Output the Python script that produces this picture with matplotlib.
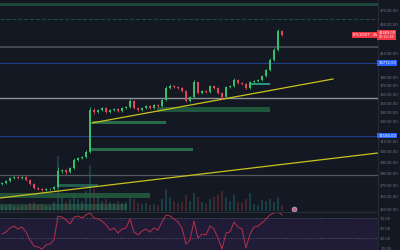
import numpy as np
import matplotlib
matplotlib.use("Agg")
import matplotlib.pyplot as plt

# candles (4h-ish bars), prices in USD
closes = [27170, 27345, 27607, 27695, 27607, 27695, 27432, 27086, 26744, 26659,
          26576, 26659, 26660, 26829, 28227, 28317, 28137, 28499, 29230, 29416,
          29510, 29982, 34259, 34042, 34259, 34477, 34042, 34259, 34368, 34150,
          34477, 34586, 35251, 34477, 34259, 34477, 34696, 34477, 34807, 34696,
          35364, 36737, 36971, 36854, 36737, 36389, 35251, 35702, 37443, 36158,
          36389, 36273, 36971, 36737, 36158, 35702, 36854, 36971, 37682, 37325,
          37206, 36737, 37443, 37562, 37682, 38163, 38897, 40152, 41447, 44025,
          43469]
highs = [27300, 27450, 27720, 27800, 27780, 27790, 27760, 27500, 27150, 26850,
         26760, 26740, 26780, 26900, 28600, 28450, 28400, 28600, 29380, 29520,
         29650, 30150, 34550, 34450, 34400, 34620, 34560, 34380, 34500, 34480,
         34580, 34720, 35500, 35330, 34560, 34600, 34820, 34760, 34930, 34900,
         35500, 36950, 37150, 37080, 36970, 36820, 36450, 35850, 37700, 37500,
         36550, 36500, 37100, 37050, 36800, 36250, 36980, 37120, 37900, 37780,
         37450, 37300, 37560, 37700, 37850, 38300, 39050, 40350, 41700, 44350,
         44200]
lows = [26980, 27080, 27280, 27520, 27500, 27540, 27350, 26990, 26650, 26560,
        26450, 26500, 26560, 26610, 26780, 28080, 27980, 28050, 28420, 29120,
        29300, 29380, 29900, 33850, 33920, 34120, 33900, 33950, 34150, 34020,
        34050, 34380, 34500, 34380, 34120, 34180, 34380, 34350, 34400, 34580,
        34600, 35250, 36600, 36700, 36600, 36250, 35150, 35100, 35600, 36050,
        36050, 36150, 36200, 36600, 36050, 35520, 35650, 36750, 36900, 37200,
        37080, 36650, 36650, 37350, 37480, 37600, 38050, 38800, 40000, 41300,
        43300]
first_open = 27086
volume = [6, 5, 7, 5, 4, 5, 6, 8, 9, 6, 7, 5, 4, 9, 55, 14, 9, 12, 18, 12,
          10, 20, 46, 22, 14, 10, 12, 9, 8, 10, 8, 9, 16, 12, 8, 7, 8, 6, 7, 6,
          12, 22, 14, 10, 8, 9, 16, 10, 18, 14, 9, 8, 12, 14, 16, 20, 14, 10, 16, 9,
          8, 12, 18, 7, 6, 11, 10, 12, 9, 14, 6]
rsi = [38, 42, 50, 54, 48, 52, 42, 26, 14, 12, 8, 16, 18, 26, 74, 72, 66, 58, 72, 74,
       70, 76, 80, 70, 68, 64, 56, 46, 50, 40, 48, 50, 68, 42, 36, 44, 48, 42, 50, 46,
       62, 76, 74, 68, 62, 50, 18, 26, 64, 30, 38, 36, 54, 48, 30, 8, 40, 42, 62, 52,
       48, 10, 38, 52, 54, 60, 68, 76, 80, 82, 76]

# horizontal levels (price, color, width, style)
levels = [(47963, '#1d4a3c', 2.0, '-'), (45733, '#1d4a3c', 0.8, '--'),
          (41910, '#4a4c55', 1.3, '-'), (39772, '#1f3d8a', 0.8, '-'),
          (35589, '#8e9097', 1.0, '-'), (31594, '#1f3d8a', 0.8, '-'),
          (27871, '#55575f', 0.9, '-')]
# zones: start bar, end bar, low, high, color, alpha
zones = [(22.5, 41, 32769, 33083, '#2b7a52', 0.85),
         (38.75, 67, 34042, 34586, '#22613f', 0.85),
         (62, 67, 37088, 37325, '#2aa38c', 0.9),
         (22, 47.75, 30077, 30365, '#2b7a52', 0.85),
         (14, 24, 26829, 27086, '#2f8a6a', 0.6),
         (-0.5, 37, 25908, 26323, '#22613f', 0.8),
         (-0.5, 31.25, 24940, 25419, '#3d8a5f', 0.35)]
# trendlines: (bar, price) pairs
trend_up = [(22.5, 32874), (82.75, 37801)]
trend_low = [(-0.5, 25908), (94, 29887)]
price_ticks = [25000, 26000, 27000, 28000, 29000, 30000, 31000, 33000,
               34000, 35000, 36000, 37000, 38000, 41000, 45000, 47000]
rsi_ticks = [70, 50, 30, 10]

bg = '#141823'
up_c, dn_c = '#38bd6c', '#e0455a'
txt_c = '#6f7380'

n = len(closes)
x = np.arange(n)
c = np.array(closes, float)
o = np.r_[first_open, c[:-1]]
up = c >= o

fig = plt.figure(figsize=(4, 2.5), dpi=100, facecolor=bg)

# volume overlay (behind candles)
vax = fig.add_axes([0, 0.156, 0.945, 0.844], facecolor=bg)
vol = np.array(volume, float)
vax.bar(x[up], vol[up], width=0.6, color='#26a69a', alpha=0.28, lw=0)
vax.bar(x[~up], vol[~up], width=0.6, color='#ef5350', alpha=0.22, lw=0)
vax.set_xlim(-0.5, 94)
vax.set_ylim(0, vol.max() / 0.26)
vax.axis('off')

ax = fig.add_axes([0, 0.156, 0.945, 0.844], facecolor='none')
ax.set_yscale('log')
ax.set_xlim(-0.5, 94)
ax.set_ylim(24861, 48577)

for p, col, lw, ls in levels:
    ax.axhline(p, color=col, lw=lw, ls=ls, zorder=1)
for x0, x1, lo, hi, col, a in zones:
    ax.fill_between([x0, x1], lo, hi, color=col, alpha=a, lw=0, zorder=2)
for seg in (trend_up, trend_low):
    ax.plot([seg[0][0], seg[1][0]], [seg[0][1], seg[1][1]], color='#c9c21e',
            lw=0.9, zorder=3)

cols = np.where(up, up_c, dn_c)
ax.vlines(x, lows, highs, colors=cols, lw=0.6, zorder=4)
ax.bar(x, np.abs(c - o), bottom=np.minimum(o, c), width=0.6, color=cols,
       lw=0, zorder=5)

# event marker
ax.plot(73, 25000, 'o', ms=3.5, mfc='#e05d70', mec='#9fb3ff', mew=0.5, zorder=6)

ax.yaxis.tick_right()
ax.set_yticks(price_ticks)
ax.set_yticklabels([f'{t:.2f}' for t in price_ticks])
ax.yaxis.set_minor_locator(matplotlib.ticker.NullLocator())
ax.tick_params(axis='y', length=0, pad=1.5, labelsize=2.9, labelcolor=txt_c)
ax.set_xticks([])
for s in ax.spines.values():
    s.set_visible(False)
ax.spines['right'].set_visible(True)
ax.spines['right'].set_color('#2a2e39')
ax.spines['right'].set_linewidth(0.6)

# price axis labels
last = closes[-1]
ax.text(1.001, last, f'{last:.2f}\n00:21:35', transform=ax.get_yaxis_transform(),
        fontsize=2.5, color='white', va='center', ha='left', linespacing=1.1,
        bbox=dict(boxstyle='square,pad=0.3', fc='#f23645', ec='none'), zorder=10)
ax.text(0.997, last, 'BTCUSDT · 4h', transform=ax.get_yaxis_transform(),
        fontsize=2.5, color='white', va='center', ha='right',
        bbox=dict(boxstyle='square,pad=0.3', fc='#f23645', ec='none'), zorder=10)
for p in (39772, 31594):
    ax.text(1.001, p, f'{p:.2f}', transform=ax.get_yaxis_transform(),
            fontsize=2.7, color='white', va='center', ha='left',
            bbox=dict(boxstyle='square,pad=0.25', fc='#2962ff', ec='none'), zorder=10)

# RSI pane
rax = fig.add_axes([0, 0, 0.945, 0.152], facecolor=bg)
rax.set_xlim(-0.5, 94)
rax.set_ylim(6, 82)
rax.axhspan(6, 70, color='#201c38', lw=0)
for lvl in (70, 30):
    rax.axhline(lvl, color='#5d5f70', lw=0.5, ls=(0, (2, 2)))
rax.plot(x, rsi, color='#b8304c', lw=0.7)
rax.yaxis.tick_right()
rax.set_yticks(rsi_ticks)
rax.set_yticklabels([f'{t:.2f}' for t in rsi_ticks])
rax.tick_params(axis='y', length=0, pad=1.5, labelsize=2.9, labelcolor=txt_c)
rax.set_xticks([])
for s in rax.spines.values():
    s.set_visible(False)
rax.spines['right'].set_visible(True)
rax.spines['right'].set_color('#2a2e39')
rax.spines['right'].set_linewidth(0.6)
rax.spines['top'].set_visible(True)
rax.spines['top'].set_color('#2a2e39')
rax.spines['top'].set_linewidth(0.8)

fig.savefig('out.png', dpi=100, facecolor=bg)
